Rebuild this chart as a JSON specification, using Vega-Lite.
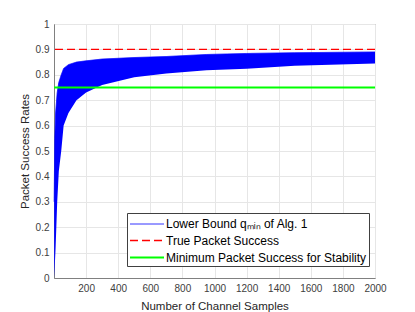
{
  "$schema": "https://vega.github.io/schema/vega-lite/v6.json",
  "width": 321,
  "height": 254,
  "autosize": "none",
  "padding": {"left": 54, "top": 24, "right": 40, "bottom": 34},
  "background": "white",
  "config": {
    "font": "Liberation Sans",
    "view": {"stroke": "#808080", "strokeWidth": 1},
    "axis": {
      "domainColor": "#808080",
      "tickColor": "#808080",
      "gridColor": "#e6e6e6",
      "labelColor": "#404040",
      "titleColor": "#262626",
      "labelFontSize": 10,
      "titleFontSize": 11.5,
      "titleFontWeight": "normal",
      "labelFont": "Liberation Sans",
      "titleFont": "Liberation Sans"
    },
    "legend": {
      "orient": "none",
      "legendX": 73,
      "legendY": 189,
      "strokeColor": "#404040",
      "fillColor": "white",
      "padding": 2,
      "labelFontSize": 12,
      "labelColor": "#000000",
      "labelFont": "Liberation Sans",
      "symbolType": "M-1,0H3",
      "symbolSize": 289,
      "rowPadding": 1,
      "labelLimit": 300,
      "labelOffset": 18
    }
  },
  "datasets": {
    "band": [
      {"x": 1, "lo": 0.0, "hi": 0.3},
      {"x": 5, "lo": 0.05, "hi": 0.55},
      {"x": 10, "lo": 0.12, "hi": 0.65},
      {"x": 20, "lo": 0.3, "hi": 0.73},
      {"x": 30, "lo": 0.42, "hi": 0.77},
      {"x": 45, "lo": 0.5, "hi": 0.8},
      {"x": 60, "lo": 0.6, "hi": 0.825},
      {"x": 90, "lo": 0.65, "hi": 0.84},
      {"x": 140, "lo": 0.7, "hi": 0.85},
      {"x": 200, "lo": 0.73, "hi": 0.855},
      {"x": 300, "lo": 0.76, "hi": 0.862},
      {"x": 500, "lo": 0.79, "hi": 0.868},
      {"x": 700, "lo": 0.805, "hi": 0.872},
      {"x": 950, "lo": 0.818, "hi": 0.88},
      {"x": 1200, "lo": 0.824, "hi": 0.884},
      {"x": 1500, "lo": 0.836, "hi": 0.887},
      {"x": 2000, "lo": 0.844, "hi": 0.89}
    ],
    "refs": [
      {"series": "True Packet Success", "y": 0.9},
      {"series": "Minimum Packet Success for Stability", "y": 0.75}
    ]
  },
  "layer": [
    {
      "data": {"name": "band"},
      "mark": {"type": "area", "color": "#0000ff", "opacity": 1},
      "encoding": {
        "x": {
          "field": "x", "type": "quantitative",
          "scale": {"domain": [0, 2000], "nice": false},
          "axis": {"values": [200, 400, 600, 800, 1000, 1200, 1400, 1600, 1800, 2000], "tickCount": 30, "format": "d", "labelOverlap": false, "labelFlush": false, "title": "Number of Channel Samples", "grid": true, "tickSize": 0, "labelPadding": 5, "titlePadding": 7}
        },
        "y": {
          "field": "lo", "type": "quantitative",
          "scale": {"domain": [0, 1], "nice": false},
          "axis": {"values": [0, 0.1, 0.2, 0.3, 0.4, 0.5, 0.6, 0.7, 0.8, 0.9, 1], "tickCount": 30, "format": "~g", "labelOverlap": false, "labelFlush": false, "title": "Packet Success Rates", "grid": true, "tickSize": 0, "labelPadding": 5, "titlePadding": 5}
        },
        "y2": {"field": "hi"}
      }
    },
    {
      "data": {"name": "band"},
      "mark": {"type": "line"},
      "encoding": {
        "x": {"field": "x", "type": "quantitative"},
        "y": {"field": "hi", "type": "quantitative"},
        "color": {"datum": "Lower Bound qₘᵢₙ of Alg. 1", "type": "nominal",
          "scale": {"domain": ["Lower Bound qₘᵢₙ of Alg. 1", "True Packet Success", "Minimum Packet Success for Stability"], "range": ["#0000ff", "#ff0000", "#00ff00"]},
          "legend": {"title": null}},
        "strokeDash": {"datum": "Lower Bound qₘᵢₙ of Alg. 1", "type": "nominal",
          "scale": {"domain": ["Lower Bound qₘᵢₙ of Alg. 1", "True Packet Success", "Minimum Packet Success for Stability"], "range": [[1, 0], [8, 4], [1, 0]]},
          "legend": {"title": null}},
        "strokeWidth": {"datum": "Lower Bound qₘᵢₙ of Alg. 1", "type": "nominal",
          "scale": {"domain": ["Lower Bound qₘᵢₙ of Alg. 1", "True Packet Success", "Minimum Packet Success for Stability"], "range": [0.8, 2, 2]},
          "legend": {"title": null}}
      }
    },
    {
      "data": {"name": "refs"},
      "mark": {"type": "rule"},
      "encoding": {
        "y": {"field": "y", "type": "quantitative"},
        "color": {"field": "series", "type": "nominal", "legend": {"title": null}},
        "strokeDash": {"field": "series", "type": "nominal", "legend": {"title": null}},
        "strokeWidth": {"field": "series", "type": "nominal", "legend": {"title": null}}
      }
    }
  ]
}
